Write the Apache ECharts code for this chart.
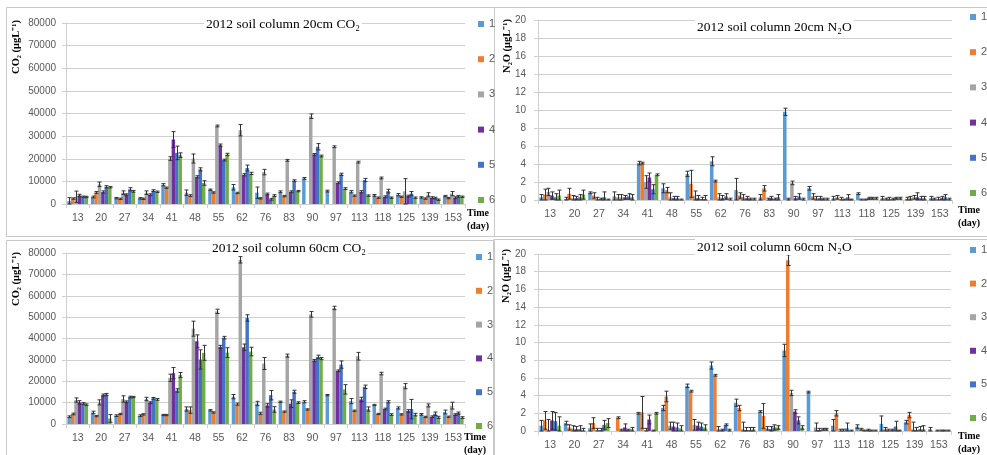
<!DOCTYPE html>
<html><head><meta charset="utf-8">
<script src="https://cdn.jsdelivr.net/npm/echarts@6/dist/echarts.min.js"></script>
<style>html,body{margin:0;padding:0;background:#fff}#c{width:987px;height:455px}</style>
</head><body><div id="c"></div>
<script>
// ---------- categories / legend ----------
const days = ['13','20','27','34','41','48','55','62','76','83','90','97','113','118','125','139','153'];
const treatments = ['1','2','3','4','5','6'];
const colors = ['#5B9BD5','#ED7D31','#A5A5A5','#7030A0','#4472C4','#70AD47'];
const co2Ticks = {min:0, max:80000, interval:10000};
const n2oTicks = {min:0, max:20, interval:2};

// ---------- 20cm CO2 ----------
const co2_20_t1 = [1300,3100,2600,2500,8500,5000,6300,7400,5000,5400,11300,5700,5400,3800,4100,2900,3500];
const co2_20_t2 = [2400,5100,2300,2300,7200,3700,5100,4900,2500,3500,0,0,3700,2800,3200,2400,2600];
const co2_20_t3 = [3200,8700,5000,5000,20100,20100,34500,32600,14100,19300,38800,25300,18500,11500,5600,4100,4600];
const co2_20_t4 = [3800,5300,4100,4100,28500,12000,26000,12900,4400,5400,21900,9400,5400,3200,3500,2800,2800];
const co2_20_t5 = [3200,7600,6500,5900,22600,15300,19400,15900,2100,10300,25300,13100,10600,5700,4600,2600,3400];
const co2_20_t6 = [3100,7400,5600,5400,21600,9300,21900,13500,3700,5700,21200,6800,3700,2800,2800,1900,3200];
const co2_20_e1 = [1500,400,300,300,500,1200,300,1200,2500,400,400,400,500,400,500,300,300];
const co2_20_e2 = [300,400,300,300,300,400,300,300,300,300,0,0,300,300,300,300,300];
const co2_20_e3 = [2500,1000,800,800,800,2000,400,2500,1200,400,1000,400,400,400,5600,900,900];
const co2_20_e4 = [500,500,400,400,3500,500,500,500,400,400,400,400,500,400,400,400,400];
const co2_20_e5 = [300,500,700,400,3000,700,400,1300,400,400,1400,500,700,800,900,400,400];
const co2_20_e6 = [300,300,400,300,1000,1000,500,500,400,300,400,400,300,300,300,300,300];

// ---------- 60cm CO2 ----------
const co2_60_t1 = [3400,5400,3900,3900,4200,7000,6400,12800,9600,10400,10400,13500,10700,8900,7500,4500,5600];
const co2_60_t2 = [4700,3700,4700,4500,4200,6500,5400,9300,5000,5800,6800,0,6200,4700,4500,3300,3400];
const co2_60_t3 = [11200,10100,11700,11700,21600,44600,52700,76800,28300,32000,51300,54300,31700,23600,17700,8700,8600];
const co2_60_t4 = [10100,13500,10400,10000,23800,38700,36100,35900,8700,9500,29700,24900,11500,7000,6100,3400,4400];
const co2_60_t5 = [9600,13800,12600,12000,15700,30200,40400,49600,13500,15100,31400,27800,17400,10400,7000,4800,5100];
const co2_60_t6 = [9000,2600,12600,11500,22900,33300,33400,33900,6800,10000,30600,16200,7000,4400,4400,3100,3000];
const co2_60_e1 = [400,600,400,400,300,1000,300,1000,1000,300,500,300,1200,300,500,400,900];
const co2_60_e2 = [400,300,300,300,300,1500,300,500,500,300,300,0,300,300,300,300,300];
const co2_60_e3 = [1000,1200,1500,800,1700,3500,1000,1500,2800,700,1300,800,1800,600,1200,700,1600];
const co2_60_e4 = [800,500,400,400,2600,3000,700,1500,800,1800,500,400,1000,400,600,400,400];
const co2_60_e5 = [400,500,400,400,800,4500,600,1500,2200,700,800,1700,800,500,4500,800,500];
const co2_60_e6 = [400,1800,300,400,1200,3500,2300,2000,1300,400,500,2200,1000,400,600,500,400];

// ---------- 20cm N2O ----------
const n2o_20_t1 = [0.3,0.1,0.8,0.4,4.1,1.3,2.9,4.3,1.1,0.3,9.8,1.3,0.2,0.7,0.2,0.1,0.2];
const n2o_20_t2 = [0.6,0.7,0.5,0.3,4.1,1.1,1.8,2.1,0.5,1.3,0.1,0.4,0.3,0.0,0.1,0.2,0.1];
const n2o_20_t3 = [0.9,0.2,0.1,0.3,2.0,0.3,0.5,0.3,0.3,0.0,1.9,0.2,0.1,0.0,0.1,0.3,0.1];
const n2o_20_t4 = [0.5,0.2,0.1,0.3,2.5,0.2,0.2,0.2,0.2,0.2,0.2,0.2,0.0,0.2,0.1,0.3,0.2];
const n2o_20_t5 = [0.3,0.3,0.3,0.4,1.2,0.2,0.1,0.4,0.1,0.1,0.4,0.1,0.3,0.2,0.2,0.2,0.3];
const n2o_20_t6 = [0.5,0.6,0.0,0.3,2.8,0.0,0.1,0.1,0.1,0.3,0.1,0.1,0.0,0.2,0.2,0.2,0.1];
const n2o_20_e1 = [0.3,0.2,0.1,0.5,0.2,0.5,0.3,0.5,1.3,0.3,0.4,0.2,0.2,0.1,0.2,0.2,0.2];
const n2o_20_e2 = [0.6,0.6,0.3,0.3,0.1,0.3,1.5,0.1,0.3,0.3,0.1,0.3,0.2,0.1,0.1,0.2,0.1];
const n2o_20_e3 = [0.4,0.3,0.2,0.3,0.7,0.5,0.5,0.4,0.3,0.2,0.2,0.2,0.2,0.1,0.2,0.2,0.2];
const n2o_20_e4 = [0.4,0.2,0.1,0.2,0.5,0.2,0.3,0.3,0.2,0.2,0.2,0.2,0.1,0.1,0.1,0.5,0.2];
const n2o_20_e5 = [0.4,0.3,0.6,0.3,0.5,0.2,0.2,0.3,0.1,0.1,0.3,0.1,0.3,0.1,0.1,0.2,0.3];
const n2o_20_e6 = [0.6,0.5,0.1,0.3,0.1,0.1,0.4,0.1,0.1,0.3,0.1,0.1,0.1,0.1,0.1,0.2,0.1];

// ---------- 60cm N2O ----------
const n2o_60_t1 = [0.6,0.9,0.3,0.0,2.0,2.6,5.1,7.4,3.2,2.2,9.1,4.4,0.6,0.5,0.8,1.0,0.2];
const n2o_60_t2 = [1.2,0.4,0.9,1.5,2.1,3.9,4.5,6.3,2.6,1.7,19.3,0.0,2.0,0.2,0.2,1.8,0.0];
const n2o_60_t3 = [0.1,0.3,0.1,0.1,0.1,0.6,0.7,0.2,0.2,0.3,4.3,0.4,0.0,0.0,0.1,0.2,0.0];
const n2o_60_t4 = [1.2,0.2,0.1,0.4,1.3,0.5,0.6,0.1,0.1,0.2,2.2,0.1,0.0,0.1,0.1,0.1,0.0];
const n2o_60_t5 = [1.1,0.2,0.7,0.1,0.0,0.4,0.5,0.7,0.1,0.4,1.2,0.2,0.3,0.0,0.5,0.2,0.0];
const n2o_60_t6 = [0.6,0.0,0.9,0.2,2.0,0.3,0.4,0.1,0.2,0.4,0.4,0.2,0.0,0.0,0.0,0.2,0.0];
const n2o_60_e1 = [0.6,0.2,0.5,0.0,0.1,0.3,0.2,0.4,0.4,0.1,0.7,0.1,0.7,0.2,0.9,0.2,0.2];
const n2o_60_e2 = [1.0,0.3,0.6,0.1,1.8,0.6,0.1,0.1,0.3,1.4,0.6,0.0,0.3,0.1,0.2,0.3,0.0];
const n2o_60_e3 = [1.2,0.3,0.2,0.1,0.2,0.4,0.6,0.3,0.8,0.2,0.3,0.5,0.2,0.1,0.1,0.8,0.1];
const n2o_60_e4 = [1.0,0.3,0.2,0.4,0.5,0.5,0.4,0.1,0.3,0.3,0.2,0.2,0.2,0.1,0.1,0.3,0.1];
const n2o_60_e5 = [1.0,0.4,0.5,0.1,0.1,0.5,0.4,0.1,0.3,0.3,0.4,0.1,0.6,0.1,0.6,0.3,0.1];
const n2o_60_e6 = [1.0,0.3,0.5,0.2,0.1,0.3,0.3,0.1,0.2,0.2,0.2,0.1,0.1,0.1,0.1,0.4,0.1];

// ---------- panels ----------
const panels = [
  {title:'2012 soil column 20cm CO\u2082', yName:'CO\u2082 (\u03bcgL\u207b\u00b9)', ticks:co2Ticks,
   vals:[co2_20_t1,co2_20_t2,co2_20_t3,co2_20_t4,co2_20_t5,co2_20_t6],
   errs:[co2_20_e1,co2_20_e2,co2_20_e3,co2_20_e4,co2_20_e5,co2_20_e6],
   grid:{left:66,top:23,width:399,height:181}, titlePos:{left:204,top:16},
   yNamePos:[16,47], timePos:[478,213], legend:{left:478,top:18,gap:23.2}, labelMargin:10},
  {title:'2012 soil column 20cm N\u2082O', yName:'N\u2082O (\u03bcgL\u207b\u00b9)', ticks:n2oTicks,
   vals:[n2o_20_t1,n2o_20_t2,n2o_20_t3,n2o_20_t4,n2o_20_t5,n2o_20_t6],
   errs:[n2o_20_e1,n2o_20_e2,n2o_20_e3,n2o_20_e4,n2o_20_e5,n2o_20_e6],
   grid:{left:538,top:20,width:414,height:180}, titlePos:{left:695,top:19},
   yNamePos:[507,46], timePos:[969,210], legend:{left:970,top:11,gap:23.2}, labelMargin:12},
  {title:'2012 soil column 60cm CO\u2082', yName:'CO\u2082 (\u03bcgL\u207b\u00b9)', ticks:co2Ticks,
   vals:[co2_60_t1,co2_60_t2,co2_60_t3,co2_60_t4,co2_60_t5,co2_60_t6],
   errs:[co2_60_e1,co2_60_e2,co2_60_e3,co2_60_e4,co2_60_e5,co2_60_e6],
   grid:{left:66,top:253,width:399,height:171}, titlePos:{left:210,top:240},
   yNamePos:[16,279], timePos:[475,437], legend:{left:476,top:251,gap:21.8}, labelMargin:10},
  {title:'2012 soil column 60cm N\u2082O', yName:'N\u2082O (\u03bcgL\u207b\u00b9)', ticks:n2oTicks,
   vals:[n2o_60_t1,n2o_60_t2,n2o_60_t3,n2o_60_t4,n2o_60_t5,n2o_60_t6],
   errs:[n2o_60_e1,n2o_60_e2,n2o_60_e3,n2o_60_e4,n2o_60_e5,n2o_60_e6],
   grid:{left:538,top:254,width:413,height:177}, titlePos:{left:695,top:239},
   yNamePos:[506,276], timePos:[969,436], legend:{left:970,top:244,gap:21.6}, labelMargin:12}
];

const GAP = 0.12;
const serif = '"Liberation Serif","Times New Roman",serif';
const sans = '"Liberation Sans",Arial,sans-serif';

function errRender(params, api){
  const ci = api.value(0), k = api.value(1), v = api.value(2), e = api.value(3);
  if (!e) return null;
  const bandW = api.size([1,0])[0];
  const groupW = bandW*(1-GAP);
  const barW = groupW/6;
  const c = api.coord([ci, v]);
  const x = Math.round(c[0] - groupW/2 + (k+0.5)*barW) + 0.5;
  const top = api.coord([ci, v+e])[1];
  const bot = api.coord([ci, Math.max(v-e,0)])[1];
  const hw = 2;
  const st = {stroke:'#333', lineWidth:1};
  return {type:'group', children:[
    {type:'line', shape:{x1:x,y1:top,x2:x,y2:bot}, style:st},
    {type:'line', shape:{x1:x-hw,y1:top,x2:x+hw,y2:top}, style:st},
    {type:'line', shape:{x1:x-hw,y1:bot,x2:x+hw,y2:bot}, style:st}
  ]};
}

const option = {
  animation:false,
  backgroundColor:'#fff',
  title:[], grid:[], xAxis:[], yAxis:[], legend:[], series:[], graphic:[]
};

panels.forEach((p, pi) => {
  option.grid.push(Object.assign({}, p.grid));
  option.title.push({text:p.title, left:p.titlePos.left, top:p.titlePos.top,
    backgroundColor:'#fff', padding:[1,2],
    textStyle:{fontFamily:serif, fontSize:13.5, fontWeight:'normal', color:'#000'}});
  option.xAxis.push({type:'category', gridIndex:pi, data:days,
    axisLine:{lineStyle:{color:'#d0d0d0'}},
    axisTick:{show:true, length:4, lineStyle:{color:'#d0d0d0'}},
    axisLabel:{interval:0, fontFamily:sans, fontSize:10.5, color:'#595959', margin:9}});
  option.yAxis.push({type:'value', gridIndex:pi, min:p.ticks.min, max:p.ticks.max, interval:p.ticks.interval,
    axisLine:{show:true, lineStyle:{color:'#d0d0d0'}},
    axisTick:{show:true, length:4, lineStyle:{color:'#d0d0d0'}},
    splitLine:{lineStyle:{color:'#d0d0d0'}},
    axisLabel:{fontFamily:sans, fontSize:10, color:'#595959', margin:p.labelMargin,
      formatter:(v) => String(v)}});
  option.legend.push({data:treatments, orient:'vertical', left:p.legend.left, top:p.legend.top,
    padding:0, itemGap:p.legend.gap, itemWidth:6, itemHeight:6, icon:'rect', selectedMode:false,
    textStyle:{fontFamily:sans, fontSize:11, color:'#595959', lineHeight:12}});
  const errData = [];
  treatments.forEach((name, k) => {
    option.series.push({type:'bar', name:name, xAxisIndex:pi, yAxisIndex:pi,
      data:p.vals[k], barGap:'0%', barCategoryGap:(GAP*100)+'%',
      itemStyle:{color:colors[k]}});
    p.vals[k].forEach((v, i) => errData.push([i, k, v, p.errs[k][i]]));
  });
  option.series.push({type:'custom', xAxisIndex:pi, yAxisIndex:pi, renderItem:errRender,
    data:errData, encode:{x:0, y:2}, z:5, silent:true});
  option.graphic.push({type:'text', x:p.yNamePos[0], y:p.yNamePos[1], rotation:Math.PI/2,
    style:{text:p.yName, fill:'#000', font:'bold 10.5px '+serif, textAlign:'center', textVerticalAlign:'middle'}});
  option.graphic.push({type:'text', x:p.timePos[0], y:p.timePos[1],
    style:{text:'Time', fill:'#000', font:'bold 10px '+serif, textAlign:'center', textVerticalAlign:'middle'}});
  option.graphic.push({type:'text', x:p.timePos[0], y:p.timePos[1]+13,
    style:{text:'(day)', fill:'#000', font:'bold 10px '+serif, textAlign:'center', textVerticalAlign:'middle'}});
});

// panel frames
[[6.5,7.5,488,229],[494.5,7.5,500,229],[6.5,240.5,488,230],[493.5,239.5,500,230]].forEach(r => {
  option.graphic.push({type:'rect', shape:{x:r[0],y:r[1],width:r[2],height:r[3]},
    style:{fill:'none', stroke:'#c8c8c8', lineWidth:1}, z:-1});
});

const chart = echarts.init(document.getElementById('c'), null, {renderer:'canvas'});
chart.setOption(option);
</script>
</body></html>
